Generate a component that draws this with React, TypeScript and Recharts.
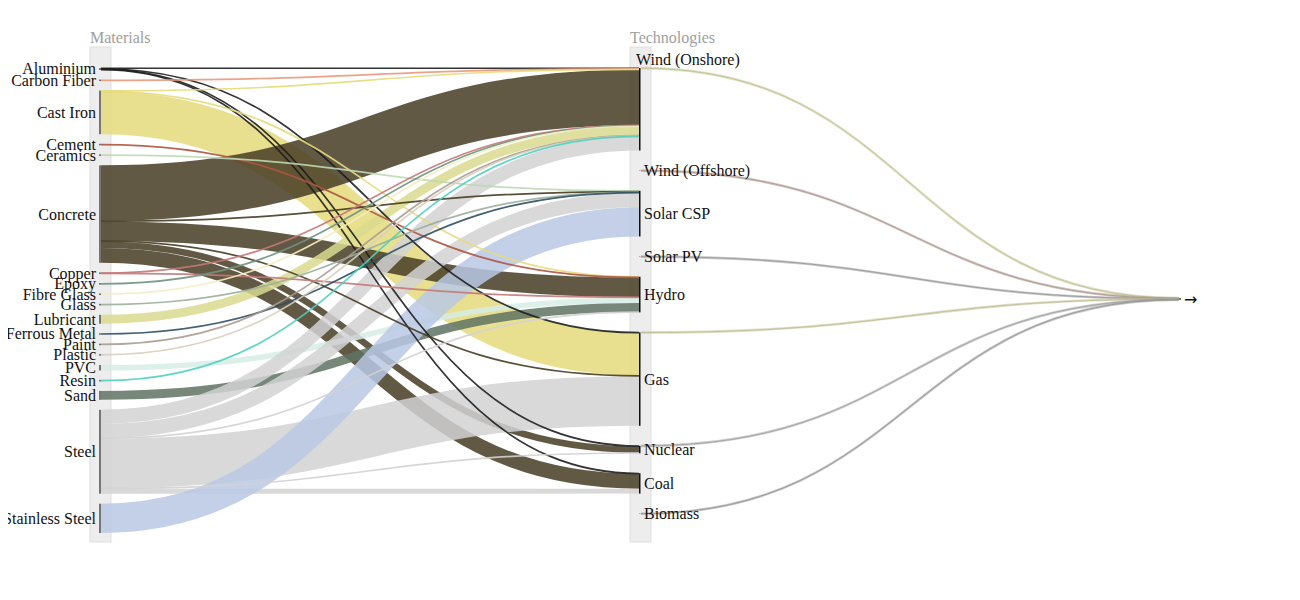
import React from 'react';
import { Sankey } from 'recharts';

// ---- data ----
const materials = [
  'Aluminium', 'Carbon Fiber', 'Cast Iron', 'Cement', 'Ceramics', 'Concrete', 'Copper', 'Epoxy',
  'Fibre Glass', 'Glass', 'Lubricant', 'Non-Ferrous Metal', 'Paint', 'Plastic', 'PVC', 'Resin',
  'Sand', 'Steel', 'Stainless Steel',
];
const materialColors = [
  '#1e1e1e', '#e9987c', '#e5da7b', '#ad5540', '#bcd8b5', '#463c24', '#c57878', '#6f9281',
  '#f3edc0', '#9aae9c', '#d9db8f', '#2e4f62', '#aa9c91', '#d8cfbd', '#d6ece5', '#4fcfbf',
  '#5f7363', '#d2d2d3', '#b9c8e4',
];
const technologies = [
  'Wind (Onshore)', 'Wind (Offshore)', 'Solar CSP', 'Solar PV', 'Hydro', 'Gas', 'Nuclear', 'Coal', 'Biomass',
];
const outputLabel = '→';
const outputTechs = ['Wind (Onshore)', 'Wind (Offshore)', 'Solar PV', 'Gas', 'Nuclear', 'Biomass'];
const outputColors = ['#c3c395', '#ae9890', '#9a9a9a', '#c3bf95', '#a2a2a2', '#979797'];
const outputValue = 0.3;

const flows: [string, string, number][] = [
  ['Aluminium', 'Wind (Onshore)', 0.5],
  ['Aluminium', 'Gas', 0.5],
  ['Aluminium', 'Nuclear', 0.5],
  ['Aluminium', 'Coal', 0.5],
  ['Carbon Fiber', 'Wind (Onshore)', 0.6],
  ['Cast Iron', 'Wind (Onshore)', 0.6],
  ['Cast Iron', 'Hydro', 0.4],
  ['Cast Iron', 'Gas', 43],
  ['Cement', 'Hydro', 0.6],
  ['Ceramics', 'Solar CSP', 0.5],
  ['Concrete', 'Wind (Onshore)', 56],
  ['Concrete', 'Solar CSP', 0.6],
  ['Concrete', 'Hydro', 19.5],
  ['Concrete', 'Gas', 0.6],
  ['Concrete', 'Nuclear', 6.5],
  ['Concrete', 'Coal', 15],
  ['Copper', 'Wind (Onshore)', 0.4],
  ['Copper', 'Hydro', 0.4],
  ['Epoxy', 'Wind (Onshore)', 0.4],
  ['Fibre Glass', 'Wind (Onshore)', 0.4],
  ['Glass', 'Solar CSP', 0.4],
  ['Lubricant', 'Wind (Onshore)', 9],
  ['Non-Ferrous Metal', 'Solar CSP', 0.5],
  ['Paint', 'Wind (Onshore)', 0.4],
  ['Plastic', 'Wind (Onshore)', 0.4],
  ['PVC', 'Hydro', 5.5],
  ['Resin', 'Wind (Onshore)', 0.4],
  ['Sand', 'Hydro', 9],
  ['Steel', 'Wind (Onshore)', 14],
  ['Steel', 'Solar CSP', 14.5],
  ['Steel', 'Hydro', 0.5],
  ['Steel', 'Gas', 50],
  ['Steel', 'Nuclear', 0.5],
  ['Steel', 'Coal', 5],
  ['Stainless Steel', 'Solar CSP', 29.5],
];

// ---- layout helpers (invisible spacer nodes to reproduce spacing) ----
const SPACER_VALUE = 0.001;
const RIGHT_SPACERS = 23;
const THIN_LIMIT = 2;

type NodeT = { name: string; kind: 'material' | 'tech' | 'out' | 'spacer'; color?: string };
type LinkT = { source: number; target: number; value: number; color?: string; visible: boolean; thin?: boolean };

const nodes: NodeT[] = [];
materials.forEach((m, i) => nodes.push({ name: m, kind: 'material', color: materialColors[i] }));
const anchorIdx = nodes.length;
nodes.push({ name: '__anchor', kind: 'spacer' });
const midSpacerIdx: number[] = [];
technologies.forEach((t, i) => {
  if (i > 0) {
    midSpacerIdx.push(nodes.length);
    nodes.push({ name: `__gap${i}`, kind: 'spacer' });
  }
  nodes.push({ name: t, kind: 'tech' });
});
const rightSpacerIdx: number[] = [];
for (let k = 0; k < RIGHT_SPACERS; k++) {
  rightSpacerIdx.push(nodes.length);
  nodes.push({ name: `__lift${k}`, kind: 'spacer' });
}
const outIdx = nodes.length;
nodes.push({ name: outputLabel, kind: 'out' });

const idxOf = (n: string) => nodes.findIndex((x) => x.name === n);

const links: LinkT[] = [];
const materialLink = ([s, t, v]: [string, string, number]): LinkT => ({
  source: idxOf(s), target: idxOf(t), value: v, color: materialColors[materials.indexOf(s)], visible: true,
});
// wide bands first, fine lines drawn above them
flows.filter((f) => f[2] >= THIN_LIMIT).forEach((f) => links.push(materialLink(f)));
flows.filter((f) => f[2] < THIN_LIMIT).forEach((f) => links.push(materialLink(f)));
outputTechs.forEach((t, i) =>
  links.push({ source: idxOf(t), target: outIdx, value: outputValue, color: outputColors[i], visible: true, thin: true })
);
// technologies without material inputs still need a source to stay in the middle column
technologies
  .filter((t) => !flows.some((f) => f[1] === t))
  .forEach((t) => links.push({ source: anchorIdx, target: idxOf(t), value: SPACER_VALUE, visible: false }));
// technologies without a visible output still need a target to stay in the middle column
technologies
  .filter((t) => !outputTechs.includes(t))
  .forEach((t, i) => links.push({ source: idxOf(t), target: rightSpacerIdx[i], value: SPACER_VALUE, visible: false }));
midSpacerIdx.forEach((si) => links.push({ source: anchorIdx, target: si, value: SPACER_VALUE, visible: false }));
rightSpacerIdx.forEach((ri, k) =>
  links.push({ source: midSpacerIdx[k % midSpacerIdx.length], target: ri, value: SPACER_VALUE, visible: false })
);

const data = { nodes, links };

// ---- layout constants ----
const ML = 99;
const MT = 60;
const CONTENT_W = 1082;
const CONTENT_H = 475;
const NODE_W = 2;
const CHART_W = ML + CONTENT_W + 60;
const CHART_H = MT + CONTENT_H + 20;
const FONT = "'Liberation Serif', 'Times New Roman', serif";

const NodeShape = (props: any) => {
  const { x, y, width, height, payload } = props;
  const kind = payload.kind;
  if (kind === 'spacer') return <g />;
  const cy = y + height / 2;
  if (kind === 'material') {
    const h = Math.max(height, 1.6);
    return (
      <g>
        <rect x={x} y={cy - h / 2} width={width} height={h} fill="#757575" />
        <text x={x - 3} y={cy} textAnchor="end" dominantBaseline="central" fontFamily={FONT} fontSize={16} fill="#111">
          {payload.name}
        </text>
      </g>
    );
  }
  if (kind === 'tech') {
    const first = payload.name === technologies[0];
    return (
      <g>
        <rect x={x} y={y} width={width - 0.5} height={height} fill="#111" />
        <text
          x={first ? x - 3 : x + width + 3}
          y={first ? y - 9 : cy}
          textAnchor="start"
          dominantBaseline="central"
          fontFamily={FONT}
          fontSize={16}
          fill="#111"
        >
          {payload.name}
        </text>
      </g>
    );
  }
  return (
    <g>
      <rect x={x} y={y} width={width} height={Math.max(height, 1)} fill="#666" />
      <text x={x + width + 3} y={cy + 1} textAnchor="start" dominantBaseline="central" fontFamily="'DejaVu Sans', sans-serif" fontSize={16} fill="#111">
        {payload.name}
      </text>
    </g>
  );
};

const LinkShape = (props: any) => {
  const { sourceX, sourceY, targetX, targetY, sourceControlX, targetControlX, linkWidth, payload } = props;
  if (!payload || !payload.visible) return <g />;
  const d = `M${sourceX},${sourceY}C${sourceControlX},${sourceY} ${targetControlX},${targetY} ${targetX},${targetY}`;
  if (payload.thin) {
    return (
      <g>
        <path d={d} fill="none" stroke={payload.color} strokeWidth={2.6} strokeOpacity={0.55} />
        <path d={d} fill="none" stroke={payload.color} strokeWidth={1} strokeOpacity={0.9} />
      </g>
    );
  }
  const fine = linkWidth < THIN_LIMIT;
  return (
    <path
      d={d}
      fill="none"
      stroke={payload.color}
      strokeWidth={Math.max(linkWidth, 1.7)}
      strokeOpacity={fine ? 0.9 : 0.85}
    />
  );
};

const leftColX = ML;
const midColX = ML + (CONTENT_W - NODE_W) / 2;

export default function App() {
  return (
    <div style={{ position: 'relative', width: 1300, height: 584, marginLeft: -8 }}>
      <svg width={1300} height={584} style={{ position: 'absolute', left: 0, top: 0 }}>
        {[leftColX, midColX].map((cx, i) => (
          <rect key={i} x={cx - 9} y={MT - 21} width={21} height={CONTENT_H + 20} fill="#ededed" stroke="#dfdfdf" strokeWidth={1} />
        ))}
        <text x={leftColX - 9} y={MT - 25} fontFamily={FONT} fontSize={16} fill="#9e9e9e">Materials</text>
        <text x={midColX - 9} y={MT - 25} fontFamily={FONT} fontSize={16} fill="#9e9e9e">Technologies</text>
      </svg>
      <div style={{ position: 'absolute', left: 0, top: 0 }}>
        <Sankey
          width={CHART_W}
          height={CHART_H}
          data={data}
          margin={{ left: ML, top: MT, right: CHART_W - ML - CONTENT_W, bottom: CHART_H - MT - CONTENT_H }}
          nodeWidth={NODE_W}
          nodePadding={10}
          iterations={0}
          sort={false}
          node={(p: any) => <NodeShape {...p} />}
          link={(p: any) => <LinkShape {...p} />}
        />
      </div>
    </div>
  );
}
